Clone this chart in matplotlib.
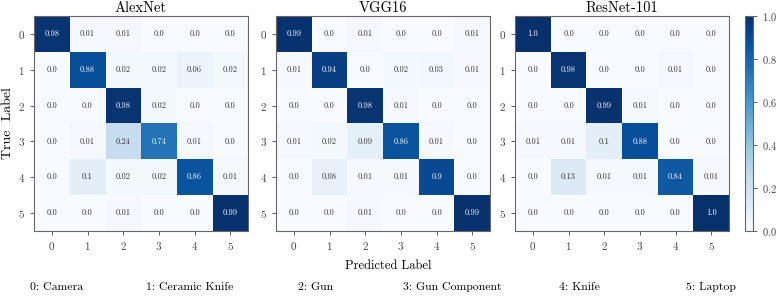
import matplotlib
matplotlib.use('Agg')
import matplotlib.pyplot as plt
import numpy as np

plt.rcParams['font.family'] = ['cmr10', 'DejaVu Serif']
plt.rcParams['axes.formatter.use_mathtext'] = True

titles = ['AlexNet', 'VGG16', 'ResNet-101']
class_names = ['0: Camera', '1: Ceramic Knife', '2: Gun', '3: Gun Component', '4: Knife', '5: Laptop']

alexnet = [[0.98, 0.01, 0.01, 0.0, 0.0, 0.0],
           [0.0, 0.88, 0.02, 0.02, 0.06, 0.02],
           [0.0, 0.0, 0.98, 0.02, 0.0, 0.0],
           [0.0, 0.01, 0.24, 0.74, 0.01, 0.0],
           [0.0, 0.1, 0.02, 0.02, 0.86, 0.01],
           [0.0, 0.0, 0.01, 0.0, 0.0, 0.99]]
vgg16 = [[0.99, 0.0, 0.01, 0.0, 0.0, 0.01],
         [0.01, 0.94, 0.0, 0.02, 0.03, 0.01],
         [0.0, 0.0, 0.98, 0.01, 0.0, 0.0],
         [0.01, 0.02, 0.09, 0.86, 0.01, 0.0],
         [0.0, 0.08, 0.01, 0.01, 0.9, 0.0],
         [0.0, 0.0, 0.01, 0.0, 0.0, 0.99]]
resnet101 = [[1.0, 0.0, 0.0, 0.0, 0.0, 0.0],
             [0.0, 0.98, 0.0, 0.0, 0.01, 0.0],
             [0.0, 0.0, 0.99, 0.01, 0.0, 0.0],
             [0.01, 0.01, 0.1, 0.88, 0.0, 0.0],
             [0.0, 0.13, 0.01, 0.01, 0.84, 0.01],
             [0.0, 0.0, 0.0, 0.0, 0.0, 1.0]]

W, H = 776, 296
fig = plt.figure(figsize=(W / 100, H / 100), dpi=100)

lefts = [34, 276, 515]
top, bottom = 16, 231
size = 214

for left, title, cm in zip(lefts, titles, [alexnet, vgg16, resnet101]):
    ax = fig.add_axes([left / W, 1 - bottom / H, size / W, (bottom - top) / H])
    cm = np.array(cm)
    im = ax.imshow(cm, cmap='Blues', vmin=0, vmax=1, aspect='auto')
    for i in range(cm.shape[0]):
        for j in range(cm.shape[1]):
            v = cm[i, j]
            ax.text(j, i, f'{float(v)}', ha='center', va='center', fontsize=6,
                    color='white' if v > 0.5 else '#333333')
    ax.set_title(title, fontsize=10.5, pad=3)
    ax.set_xticks(range(6))
    ax.set_yticks(range(6))
    ax.tick_params(labelsize=8, colors='#444444', length=3, width=0.6)
    for s in ax.spines.values():
        s.set_color('#666666')
        s.set_linewidth(0.8)

cax = fig.add_axes([745 / W, 1 - bottom / H, 8 / W, (bottom - top) / H])
cb = fig.colorbar(im, cax=cax)
cb.set_ticks([0.0, 0.2, 0.4, 0.6, 0.8, 1.0])
cb.ax.tick_params(labelsize=7.5, colors='#444444', length=3, width=0.6)
cb.outline.set_edgecolor('#666666')
cb.outline.set_linewidth(0.8)

fig.text(8 / W, 1 - 123 / H, 'True  Label', rotation=90, ha='center', va='center', fontsize=10)
fig.text(388 / W, 1 - 266 / H, 'Predicted Label', ha='center', va='center', fontsize=9)

centers = [57, 190, 316, 452, 579, 711]
for cx, name in zip(centers, class_names):
    fig.text(cx / W, 1 - 287 / H, name, ha='center', va='center', fontsize=8.5)

fig.savefig('out.png', dpi=100)
